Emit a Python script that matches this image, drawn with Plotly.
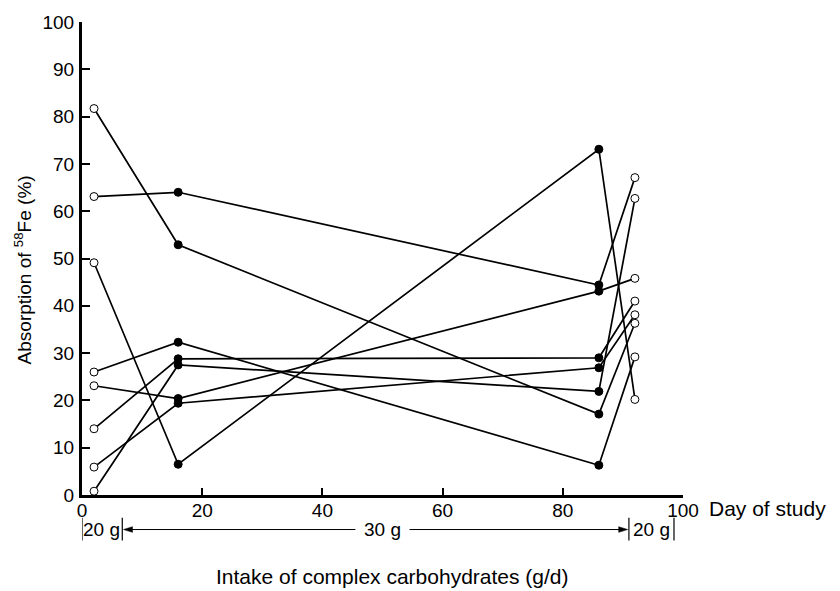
import plotly.graph_objects as go

# Day of study for each measurement
days = [2, 16, 86, 92]
# 58Fe absorption (%) per subject at each day
subject_1 = [81.7, 52.9, 17.1, 36.3]
subject_2 = [63.1, 64.0, 44.4, 67.1]
subject_3 = [49.1, 6.5, 73.1, 20.2]
subject_4 = [26.0, 32.3, 6.3, 29.2]
subject_5 = [23.1, 20.4, 43.1, 45.8]
subject_6 = [14.0, 28.8, 29.0, 41.0]
subject_7 = [5.9, 19.4, 26.9, 38.1]
subject_8 = [0.8, 27.5, 21.9, 62.7]
subjects = [subject_1, subject_2, subject_3, subject_4,
            subject_5, subject_6, subject_7, subject_8]
# fill per measurement: open = 20 g period, filled = 30 g period
fills = ["white", "black", "black", "white"]

x_ticks = [0, 20, 40, 60, 80, 100]
y_ticks = list(range(0, 101, 10))

FONT = "Liberation Sans, Arial, sans-serif"

fig = go.Figure()
for s in subjects:
    fig.add_trace(go.Scatter(
        x=days, y=s, mode="lines+markers",
        line=dict(color="black", width=1.7),
        marker=dict(symbol="circle", size=8, color=fills,
                    line=dict(color="black", width=1)),
        cliponaxis=False, showlegend=False, hoverinfo="skip"))

fig.update_layout(
    width=840, height=591,
    margin=dict(l=82, r=157, t=15, b=96),
    paper_bgcolor="white", plot_bgcolor="white",
    font=dict(family=FONT, size=19, color="black"),
)
fig.update_xaxes(range=[0, 100], tickvals=x_ticks, ticks="inside", ticklen=7,
                 tickwidth=1.5, tickcolor="black", showline=True,
                 linecolor="black", linewidth=2.5, showgrid=False,
                 zeroline=False, tickfont=dict(size=19), ticklabelstandoff=-4)
fig.update_yaxes(range=[0, 100], tickvals=y_ticks, ticks="inside", ticklen=8,
                 tickwidth=2, tickcolor="black", showline=True,
                 linecolor="black", linewidth=3, showgrid=False,
                 zeroline=False, tickfont=dict(size=19), ticklabelstandoff=1)

# Y axis title
fig.add_annotation(xref="paper", yref="paper", x=-0.098, y=0.475,
                   text="Absorption of <sup>58</sup>Fe (%)", textangle=-90,
                   showarrow=False, font=dict(size=19), xanchor="center",
                   yanchor="middle")
# Day of study label
fig.add_annotation(xref="paper", yref="paper", x=1.04, y=-0.029,
                   text="Day of study", showarrow=False, xanchor="left",
                   yanchor="middle", font=dict(size=21))
# Intake label
fig.add_annotation(xref="paper", yref="paper", x=0.516, y=-0.173,
                   text="Intake of complex carbohydrates (g/d)", showarrow=False,
                   xanchor="center", yanchor="middle", font=dict(size=21))

# Carbohydrate intake periods
row_y = -0.073
for xb in [0, 6.7, 91.0, 98.5]:
    fig.add_shape(type="line", xref="x", yref="paper", x0=xb, x1=xb,
                  y0=-0.048, y1=-0.096, line=dict(color="black", width=1.2))
for xt, label in [(3.3, "20 g"), (94.7, "20 g"), (50, "30 g")]:
    fig.add_annotation(xref="x", yref="paper", x=xt, y=row_y, text=label,
                       showarrow=False, xanchor="center", yanchor="middle",
                       font=dict(size=19))
# arrow shafts
fig.add_shape(type="line", xref="x", yref="paper", x0=8.0, x1=45.5,
              y0=row_y, y1=row_y, line=dict(color="black", width=1))
fig.add_shape(type="line", xref="x", yref="paper", x0=54.5, x1=89.7,
              y0=row_y, y1=row_y, line=dict(color="black", width=1))
# arrow heads
hw = 0.006
fig.add_shape(type="path", xref="x", yref="paper",
              path=f"M 6.9 {row_y} L 8.4 {row_y + hw} L 8.4 {row_y - hw} Z",
              fillcolor="black", line=dict(color="black", width=0.5))
fig.add_shape(type="path", xref="x", yref="paper",
              path=f"M 90.8 {row_y} L 89.3 {row_y + hw} L 89.3 {row_y - hw} Z",
              fillcolor="black", line=dict(color="black", width=0.5))

fig.write_html("out.html", config={"displayModeBar": False},
               post_script="document.body.style.margin='0';"
                           "document.body.style.overflow='hidden';")
